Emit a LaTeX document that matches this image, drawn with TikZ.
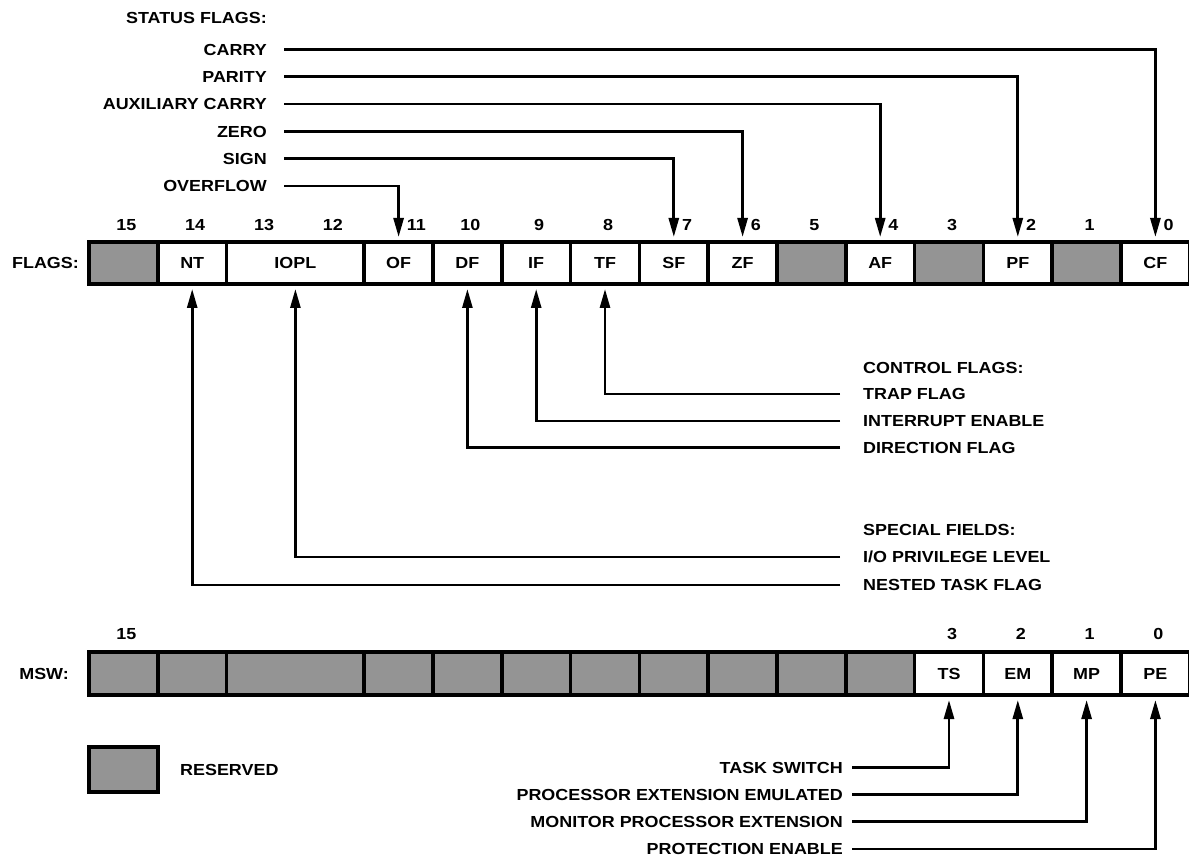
\documentclass[tikz,border=0pt]{standalone}
\usepackage{fontspec}
\setmainfont{Liberation Sans}[FakeStretch=1.12]
\usetikzlibrary{arrows.meta}
\definecolor{resvgray}{gray}{0.58}
\begin{document}
\begin{tikzpicture}[x=1pt,y=-1pt,
  font=\fontsize{16}{19}\selectfont\bfseries,
  cell/.style={draw, line width=3.6pt, inner sep=0pt, outer sep=0pt},
  lbl/.style={inner sep=0pt, text height=11.5pt, text depth=0pt},
  arr/.style={line width=2.7pt, -{Triangle[length=19pt,width=10pt]}, shorten >=5pt},
]
\useasboundingbox (0,0) rectangle (1189,858);
\def\W{68.8}
% ---------------- FLAGS register
\node[lbl, anchor=east] (flagsname) at (79,263) {FLAGS:};
\foreach \k/\w/\n/\t/\c in {0/1/f15//resvgray, 1/1/fNT/NT/white, 2/2/fIOPL/IOPL/white,
  4/1/fOF/OF/white, 5/1/fDF/DF/white, 6/1/fIF/IF/white, 7/1/fTF/TF/white,
  8/1/fSF/SF/white, 9/1/fZF/ZF/white, 10/1/f5//resvgray, 11/1/fAF/AF/white,
  12/1/f3//resvgray, 13/1/fPF/PF/white, 14/1/f1//resvgray, 15/1/fCF/CF/white}
  \node[cell, fill=\c, minimum width={\w*\W*1pt}, minimum height=42pt] (\n) at ({89+\W*(\k+\w/2)},263) {\t};
% bit numbers (no arrow)
\foreach \b/\k in {15/0, 14/1, 13/2, 12/3, 10/5, 9/6, 8/7, 5/10, 3/12, 1/14}
  \node[lbl] (nf\b) at ({89+\W*(\k+0.5)+3},225) {\b};
% bit numbers beside arrows
\foreach \b/\k in {11/4, 7/8, 6/9, 4/11, 2/13, 0/15}
  \node[lbl, anchor=west] (nf\b) at ({89+\W*(\k+0.5)+8},225) {\b};
% ---------------- status flags
\node[lbl, anchor=east] (sHead) at (267,18) {STATUS FLAGS:};
\node[lbl, anchor=east] (sCF) at (267,49.5) {CARRY};
\node[lbl, anchor=east] (sPF) at (267,76.8) {PARITY};
\node[lbl, anchor=east] (sAF) at (267,104.1) {AUXILIARY CARRY};
\node[lbl, anchor=east] (sZF) at (267,131.4) {ZERO};
\node[lbl, anchor=east] (sSF) at (267,158.7) {SIGN};
\node[lbl, anchor=east] (sOF) at (267,186) {OVERFLOW};
\foreach \f in {CF,PF,AF,ZF,SF,OF}
  \draw[arr] ([xshift=17pt]s\f.east) -| (f\f.north);
% ---------------- control flags
\node[lbl, anchor=west] (cHead) at (863,368) {CONTROL FLAGS:};
\node[lbl, anchor=west] (cTF) at (863,394) {TRAP FLAG};
\node[lbl, anchor=west] (cIF) at (863,421) {INTERRUPT ENABLE};
\node[lbl, anchor=west] (cDF) at (863,447.5) {DIRECTION FLAG};
\foreach \f in {TF,IF,DF}
  \draw[arr] ([xshift=-23pt]c\f.west) -| (f\f.south);
% ---------------- special fields
\node[lbl, anchor=west] (pHead) at (863,530) {SPECIAL FIELDS:};
\node[lbl, anchor=west] (pIOPL) at (863,557) {I/O PRIVILEGE LEVEL};
\node[lbl, anchor=west] (pNT) at (863,585) {NESTED TASK FLAG};
\foreach \f in {IOPL,NT}
  \draw[arr] ([xshift=-23pt]p\f.west) -| (f\f.south);
% ---------------- MSW register
\node[lbl, anchor=east] (mswname) at (69,673.5) {MSW:};
\foreach \k/\w/\n/\t/\c in {0/1/m15//resvgray, 1/1/m14//resvgray, 2/2/m13//resvgray,
  4/1/m11//resvgray, 5/1/m10//resvgray, 6/1/m9//resvgray, 7/1/m8//resvgray,
  8/1/m7//resvgray, 9/1/m6//resvgray, 10/1/m5//resvgray, 11/1/m4//resvgray,
  12/1/mTS/TS/white, 13/1/mEM/EM/white, 14/1/mMP/MP/white, 15/1/mPE/PE/white}
  \node[cell, fill=\c, minimum width={\w*\W*1pt}, minimum height=43pt] (\n) at ({89+\W*(\k+\w/2)},673.5) {\t};
\foreach \b/\k in {15/0, 3/12, 2/13, 1/14, 0/15}
  \node[lbl] (nm\b) at ({89+\W*(\k+0.5)+3},634) {\b};
\node[lbl, anchor=east] (lTS) at (843,767.5) {TASK SWITCH};
\node[lbl, anchor=east] (lEM) at (843,794.5) {PROCESSOR EXTENSION EMULATED};
\node[lbl, anchor=east] (lMP) at (843,821.5) {MONITOR PROCESSOR EXTENSION};
\node[lbl, anchor=east] (lPE) at (843,849) {PROTECTION ENABLE};
\foreach \f in {TS,EM,MP,PE}
  \draw[arr] ([xshift=9pt]l\f.east) -| (m\f.south);
% ---------------- legend
\node[cell, fill=resvgray, minimum width=69pt, minimum height=45pt] (legendbox) at (123.5,769.5) {};
\node[lbl, anchor=west] (legendtxt) at (180,770) {RESERVED};
\end{tikzpicture}
\end{document}
